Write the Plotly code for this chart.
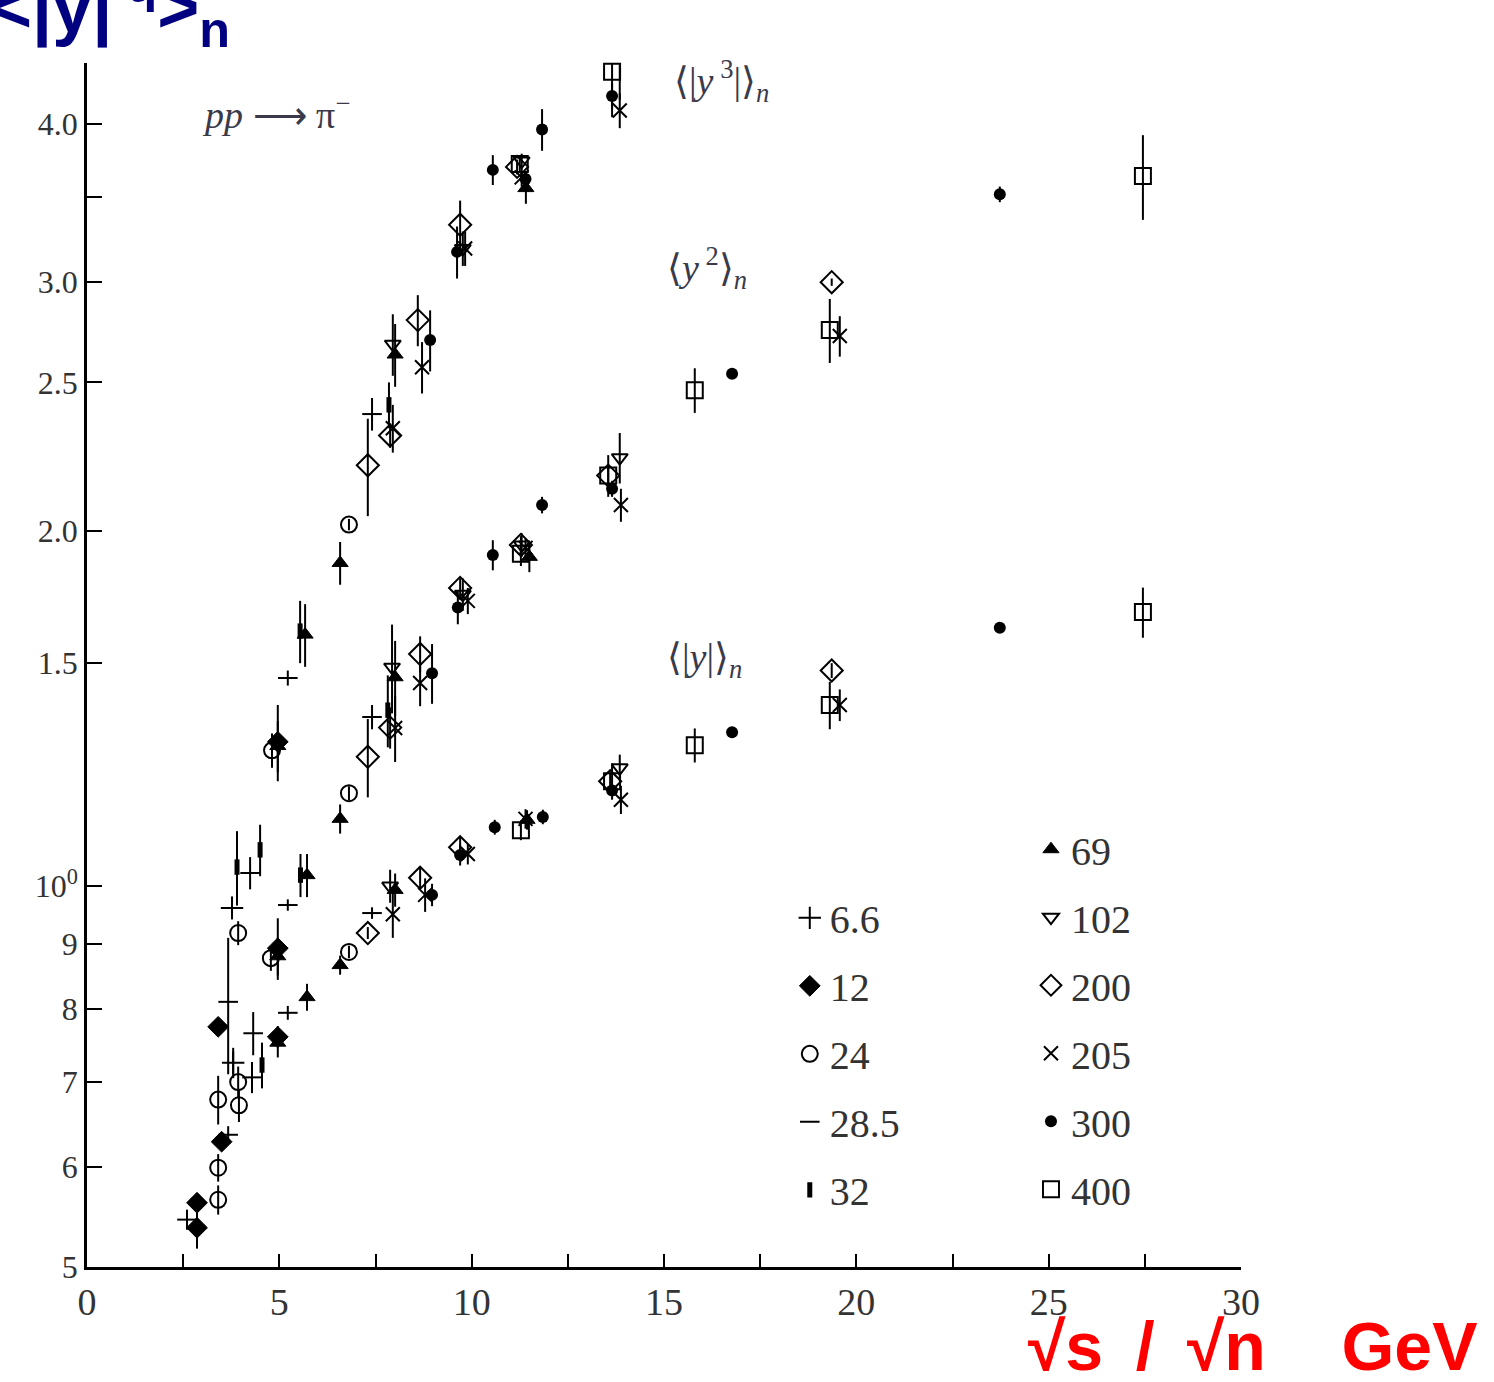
import plotly.graph_objects as go

# ---------------- data ----------------
# x = sqrt(s)/sqrt(n) [GeV], y = moment value, e = error (half length)
E6_6_x = [3.77, 3.80]
E6_6_y = [0.961, 0.725]
E6_6_e = [0.02, 0.02]

E12_x = [2.86, 2.86, 3.41, 3.50, 4.96, 4.96, 4.96]
E12_y = [0.562, 0.537, 0.774, 0.628, 0.893, 0.760, 1.30]
E12_e = [0.01, 0.02, 0.01, 0.01, 0.05, 0.015, 0.09]

E24_x = [3.41, 3.41, 3.41, 3.93, 3.95, 3.93, 4.78, 4.81, 6.81, 6.81, 6.81]
E24_y = [0.565, 0.599, 0.678, 0.700, 0.671, 0.918, 0.877, 1.28, 0.887, 1.184, 1.93]
E24_e = [0.015, 0.015, 0.03, 0.02, 0.02, 0.02, 0.02, 0.04, 0.01, 0.015, 0.02]

E28_5_x = [2.60, 3.67, 3.67, 4.24, 4.29, 4.32, 5.22, 5.22, 5.22, 7.41, 7.41, 7.41]
E28_5_y = [0.545, 0.636, 0.810, 1.024, 0.706, 0.765, 0.794, 0.966, 1.46, 2.36, 1.36, 0.952]
E28_5_e = [0.01, 0.01, 0.10, 0.03, 0.02, 0.03, 0.01, 0.01, 0.02, 0.07, 0.03, 0.01]

E32_x = [3.90, 4.50, 4.55, 5.54, 5.55, 7.85, 7.82]
E32_y = [1.035, 1.068, 0.722, 1.59, 1.02, 2.40, 1.377]
E32_e = [0.07, 0.05, 0.03, 0.09, 0.04, 0.10, 0.09]

E69_x = [4.96, 4.96, 4.96, 5.67, 5.72, 5.72, 6.58, 6.58, 6.58, 8.01, 8.01, 8.01, 11.41, 11.50, 11.44]
E69_y = [0.88, 0.752, 1.29, 1.58, 1.02, 0.817, 1.80, 1.13, 0.866, 2.63, 1.462, 0.993, 3.56, 1.82, 1.128]
E69_e = [0.03, 0.02, 0.06, 0.09, 0.04, 0.02, 0.07, 0.03, 0.015, 0.15, 0.10, 0.03, 0.10, 0.05, 0.02]

E102_x = [7.95, 7.93, 7.88, 9.77, 9.77, 11.30, 11.30, 13.85, 13.85, 13.85]
E102_y = [2.68, 1.489, 1.00, 3.19, 1.70, 3.74, 1.86, 4.53, 2.18, 1.24]
E102_e = [0.15, 0.12, 0.03, 0.10, 0.05, 0.05, 0.04, 0.35, 0.10, 0.03]

E200_x = [7.30, 7.88, 8.60, 9.70, 11.18, 7.30, 7.88, 8.66, 9.70, 11.28, 13.55, 19.36,
          7.30, 8.66, 9.70, 13.60, 19.36]
E200_y = [2.15, 2.27, 2.80, 3.33, 3.70, 1.265, 1.334, 1.525, 1.72, 1.86, 2.11, 3.00,
          0.918, 1.015, 1.073, 1.21, 1.48]
E200_e = [0.19, 0.05, 0.13, 0.15, 0.05, 0.09, 0.05, 0.05, 0.03, 0.03, 0.03, 0.02,
          0.01, 0.02, 0.02, 0.02, 0.02]

E205_x = [7.95, 8.71, 9.83, 11.30, 13.85, 8.01, 8.66, 9.90, 11.40, 13.88, 19.57,
          7.95, 8.79, 9.90, 11.40, 13.88, 19.57]
E205_y = [2.30, 2.57, 3.19, 3.63, 4.10, 1.333, 1.447, 1.68, 1.85, 2.00, 2.72,
          0.95, 0.984, 1.06, 1.13, 1.17, 1.39]
E205_e = [0.10, 0.12, 0.10, 0.06, 0.13, 0.08, 0.06, 0.04, 0.03, 0.06, 0.10,
          0.04, 0.03, 0.02, 0.02, 0.03, 0.04]

E300_x = [8.92, 9.62, 10.55, 11.40, 11.83, 13.65, 8.97, 9.64, 10.55, 11.83, 13.65, 16.77, 23.73,
          8.97, 9.70, 10.60, 11.85, 13.65, 16.77, 23.73]
E300_y = [2.70, 3.17, 3.68, 3.62, 3.96, 4.21, 1.473, 1.66, 1.826, 2.00, 2.06, 2.54, 3.52,
          0.984, 1.058, 1.113, 1.134, 1.19, 1.323, 1.60]
E300_e = [0.15, 0.15, 0.10, 0.05, 0.15, 0.10, 0.08, 0.05, 0.05, 0.03, 0.03, 0.02, 0.05,
          0.02, 0.02, 0.015, 0.015, 0.01, 0.01, 0.01]

E400_x = [11.25, 13.65, 11.28, 13.55, 15.80, 19.31, 27.45, 11.28, 13.65, 15.80, 19.31, 27.45]
E400_y = [3.72, 4.40, 1.83, 2.11, 2.465, 2.75, 3.64, 1.107, 1.21, 1.292, 1.39, 1.646]
E400_e = [0.05, 0.35, 0.04, 0.08, 0.10, 0.16, 0.28, 0.02, 0.04, 0.04, 0.06, 0.075]

x_tick_vals = [0, 2.5, 5, 7.5, 10, 12.5, 15, 17.5, 20, 22.5, 25, 27.5, 30]
x_tick_text = ["0", "", "5", "", "10", "", "15", "", "20", "", "25", "", "30"]
y_tick_vals = [0.5, 0.6, 0.7, 0.8, 0.9, 1.0, 1.5, 1.908, 2.5, 3.0, 3.5, 4.0]
y_tick_text = ["5", "6", "7", "8", "9", "10<sup>0</sup>", "1.5", "2.0", "2.5", "3.0", "", "4.0"]

# ---------------- styles ----------------
series = [
    ("6.6", E6_6_x, E6_6_y, E6_6_e, "legend", dict(symbol="cross-thin-open", size=16, line=dict(width=2, color="black"))),
    ("12", E12_x, E12_y, E12_e, "legend", dict(symbol="diamond", size=16, line=dict(width=1, color="black"))),
    ("24", E24_x, E24_y, E24_e, "legend", dict(symbol="circle-open", size=16, line=dict(width=2, color="black"))),
    ("28.5", E28_5_x, E28_5_y, E28_5_e, "legend", dict(symbol="line-ew-open", size=14, line=dict(width=2, color="black"))),
    ("32", E32_x, E32_y, E32_e, "legend", dict(symbol="line-ns-open", size=11, line=dict(width=5, color="black"))),
    ("69", E69_x, E69_y, E69_e, "legend2", dict(symbol="triangle-up", size=14, line=dict(width=1, color="black"))),
    ("102", E102_x, E102_y, E102_e, "legend2", dict(symbol="triangle-down-open", size=14, line=dict(width=2, color="black"))),
    ("200", E200_x, E200_y, E200_e, "legend2", dict(symbol="diamond-open", size=17, line=dict(width=2, color="black"))),
    ("205", E205_x, E205_y, E205_e, "legend2", dict(symbol="x-thin-open", size=14, line=dict(width=2, color="black"))),
    ("300", E300_x, E300_y, E300_e, "legend2", dict(symbol="circle", size=12, line=dict(width=0, color="black"))),
    ("400", E400_x, E400_y, E400_e, "legend2", dict(symbol="square-open", size=16, line=dict(width=2, color="black"))),
]

fig = go.Figure()
for name, xs, ys, es, leg, mk in series:
    fig.add_trace(go.Scatter(
        x=xs, y=ys, mode="markers", name=name,
        marker=dict(color="black", **mk),
        error_y=dict(type="data", array=es, visible=True, color="black", thickness=2, width=0),
        legend=leg, legendgroup=name, cliponaxis=False,
    ))

serif = "Liberation Serif, Times New Roman, serif"
legend_common = dict(
    bgcolor="rgba(0,0,0,0)", font=dict(family=serif, size=40, color="#333333"),
    traceorder="grouped", tracegroupgap=13, itemsizing="trace",
    xanchor="left", yanchor="top",
)

fig.update_layout(
    width=1494, height=1382,
    margin=dict(l=87, r=253, t=63, b=115),
    paper_bgcolor="white", plot_bgcolor="white",
    showlegend=True,
    legend=dict(x=0.609, y=0.317, **legend_common),
    legend2=dict(x=0.818, y=0.374, **legend_common),
    xaxis=dict(
        range=[0, 30], showgrid=False, zeroline=False,
        showline=True, linecolor="black", linewidth=2.5,
        ticks="inside", ticklen=13, tickwidth=2, tickcolor="black",
        tickvals=x_tick_vals, ticktext=x_tick_text,
        tickfont=dict(family=serif, size=38, color="#333333"),
    ),
    yaxis=dict(
        type="log", range=[-0.30103, 0.6503], showgrid=False, zeroline=False,
        showline=True, linecolor="black", linewidth=2.5,
        ticks="inside", ticklen=15, tickwidth=2, tickcolor="black",
        tickvals=y_tick_vals, ticktext=y_tick_text,
        tickfont=dict(family=serif, size=32, color="#333333"),
    ),
)

ann_font = dict(family=serif, size=38, color="#3a3a4a")
fig.add_annotation(xref="paper", yref="paper", x=0.098, y=0.959, xanchor="left", yanchor="middle",
                   text="<i>pp</i> \u27f6 \u03c0<sup>\u2212</sup>", showarrow=False, font=ann_font)
fig.add_annotation(xref="paper", yref="paper", x=0.5065, y=0.985, xanchor="left", yanchor="middle",
                   text="\u27e8|<i>y</i><sup> 3</sup>|\u27e9<sub><i>n</i></sub>", showarrow=False, font=ann_font)
fig.add_annotation(xref="paper", yref="paper", x=0.5005, y=0.8297, xanchor="left", yanchor="middle",
                   text="\u27e8<i>y</i><sup> 2</sup>\u27e9<sub><i>n</i></sub>", showarrow=False, font=ann_font)
fig.add_annotation(xref="paper", yref="paper", x=0.5005, y=0.504, xanchor="left", yanchor="middle",
                   text="\u27e8|<i>y</i>|\u27e9<sub><i>n</i></sub>", showarrow=False, font=ann_font)

# y-axis title (top left, partly cut by the page edge)
fig.add_annotation(xref="paper", yref="paper", x=-0.0858, y=1.0, xanchor="left", yanchor="bottom",
                   yshift=3,
                   text="&lt;|y|<sup> q</sup>&gt;<sub>n</sub>", showarrow=False,
                   font=dict(family="Liberation Sans, Arial, sans-serif", size=72, color="#000080", weight="bold"))
# x-axis title (bottom right)
fig.add_annotation(xref="paper", yref="paper", x=1.207, y=-0.066, xanchor="right", yanchor="middle",
                   text="\u221as\u00a0\u2009/\u00a0\u2009\u221an\u00a0\u00a0\u00a0\u00a0GeV", showarrow=False,
                   font=dict(family="Liberation Sans, Arial, sans-serif", size=68, color="#ff0000", weight="bold"))

fig.write_html("out.html", config={"displayModeBar": False},
               post_script="document.body.style.margin='0';")
